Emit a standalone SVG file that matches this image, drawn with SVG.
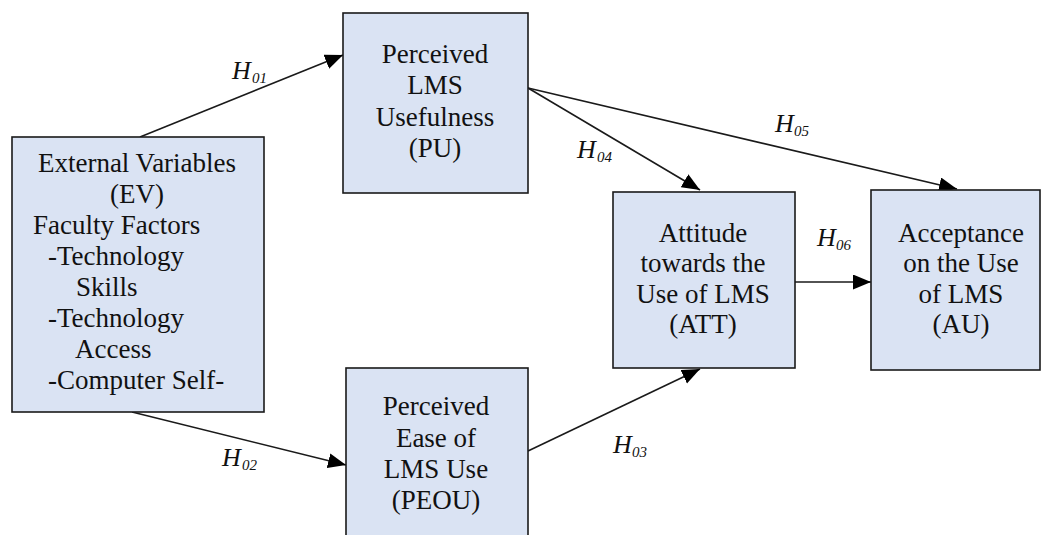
<svg xmlns="http://www.w3.org/2000/svg" width="1043" height="535" viewBox="0 0 1043 535" font-family="Liberation Serif" fill="#111">
<defs>
<marker id="ah" markerUnits="userSpaceOnUse" markerWidth="20" markerHeight="16" refX="18" refY="7.5" orient="auto">
<path d="M0,0 L18,7.5 L0,15 z" fill="#000"/>
</marker>
</defs>
<rect width="1043" height="535" fill="#fff"/>
<g id="connectors" stroke="#1a1a1a" stroke-width="1.6" fill="none" marker-end="url(#ah)">
<line x1="140" y1="137" x2="343" y2="55"/>
<line x1="132" y1="412" x2="346" y2="465"/>
<line x1="528" y1="451" x2="700" y2="369"/>
<line x1="528" y1="88" x2="700" y2="190"/>
<line x1="528" y1="88" x2="957" y2="189"/>
<line x1="795" y1="282" x2="871" y2="282"/>
</g>
<g id="labels" font-style="italic">
<text font-size="26" x="232" y="79">H</text><text font-size="15" x="252" y="83">01</text>
<text font-size="26" x="222" y="466">H</text><text font-size="15" x="242" y="470">02</text>
<text font-size="26" x="613" y="453">H</text><text font-size="15" x="632" y="457">03</text>
<text font-size="26" x="577" y="158">H</text><text font-size="15" x="597" y="162">04</text>
<text font-size="26" x="775" y="132">H</text><text font-size="15" x="794" y="136">05</text>
<text font-size="26" x="817" y="246">H</text><text font-size="15" x="836" y="250">06</text>
</g>
<g id="ev" font-size="27">
<rect x="12" y="137" width="252" height="275" fill="#dae3f3" stroke="#1a1a1a" stroke-width="1.6"/>
<text text-anchor="middle" x="137" y="172">External Variables</text>
<text text-anchor="middle" x="137" y="203">(EV)</text>
<text x="33" y="234">Faculty Factors</text>
<text x="48" y="265">-Technology</text>
<text x="76" y="296">Skills</text>
<text x="48" y="327">-Technology</text>
<text x="75" y="358">Access</text>
<text x="48" y="389">-Computer Self-</text>
</g>
<g id="pu" font-size="27" text-anchor="middle">
<rect x="343" y="13" width="185" height="180" fill="#dae3f3" stroke="#1a1a1a" stroke-width="1.6"/>
<text x="435" y="63">Perceived</text>
<text x="435" y="94">LMS</text>
<text x="435" y="126">Usefulness</text>
<text x="435" y="157">(PU)</text>
</g>
<g id="peou" font-size="27" text-anchor="middle">
<rect x="346" y="368" width="182" height="180" fill="#dae3f3" stroke="#1a1a1a" stroke-width="1.6"/>
<text x="436" y="415">Perceived</text>
<text x="436" y="447">Ease of</text>
<text x="436" y="478">LMS Use</text>
<text x="436" y="509">(PEOU)</text>
</g>
<g id="att" font-size="27" text-anchor="middle">
<rect x="613" y="192" width="182" height="176" fill="#dae3f3" stroke="#1a1a1a" stroke-width="1.6"/>
<text x="703" y="242">Attitude</text>
<text x="703" y="272">towards the</text>
<text x="703" y="303">Use of LMS</text>
<text x="703" y="333">(ATT)</text>
</g>
<g id="au" font-size="27" text-anchor="middle">
<rect x="871" y="190" width="169" height="180" fill="#dae3f3" stroke="#1a1a1a" stroke-width="1.6"/>
<text x="961" y="242">Acceptance</text>
<text x="961" y="272">on the Use</text>
<text x="961" y="303">of LMS</text>
<text x="961" y="333">(AU)</text>
</g>
</svg>
